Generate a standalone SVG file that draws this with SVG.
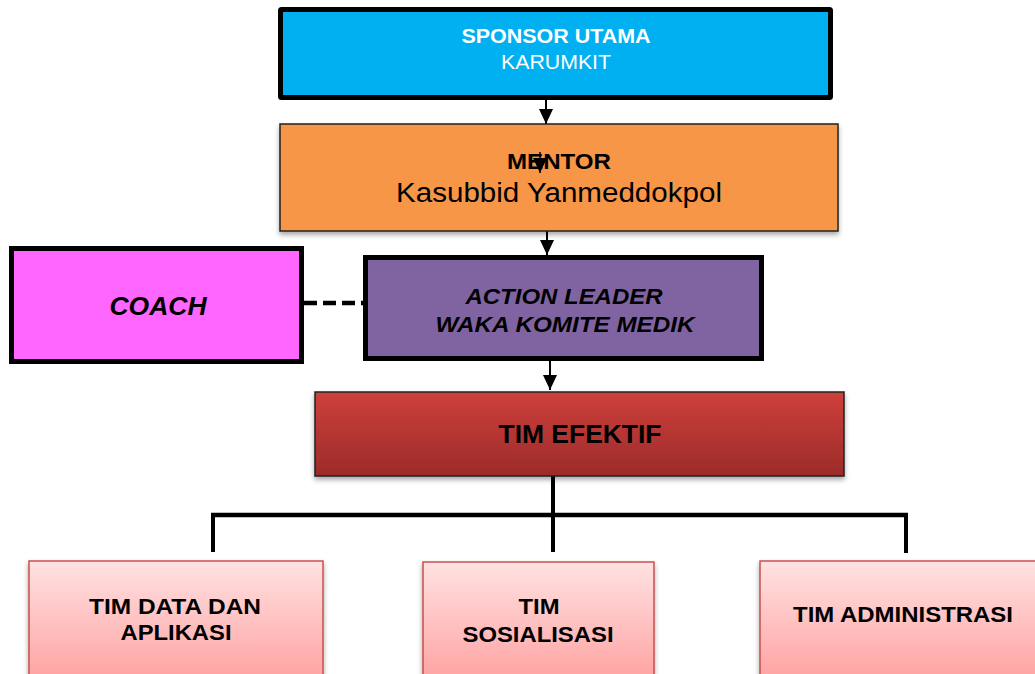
<svg xmlns="http://www.w3.org/2000/svg" width="1035" height="674" viewBox="0 0 1035 674">
<style>
.t{font-family:"Liberation Sans",Arial,sans-serif;text-anchor:middle}
.b{font-weight:bold}
.i{font-style:italic}
.conn{stroke:#000;fill:none}
</style>
<defs>
<marker id="ah" markerWidth="15" markerHeight="14" refX="15" refY="7" orient="auto" markerUnits="userSpaceOnUse" viewBox="0 0 15 14">
<path d="M0,0 L15,7 L0,14 Z" fill="#000"/>
</marker>
<linearGradient id="gRed" x1="0" y1="0" x2="0" y2="1">
<stop offset="0" stop-color="#CE403C"/>
<stop offset="1" stop-color="#9C2B29"/>
</linearGradient>
<linearGradient id="gPink" x1="0" y1="0" x2="0" y2="1">
<stop offset="0" stop-color="#FFE2E2"/>
<stop offset="1" stop-color="#FF9C9C"/>
</linearGradient>
<filter id="sh" x="-5%" y="-10%" width="110%" height="130%">
<feDropShadow dx="0" dy="3" stdDeviation="2.5" flood-color="#000" flood-opacity="0.35"/>
</filter>
</defs>

<g id="connectors">
<line class="conn" x1="546" y1="100" x2="546" y2="124" stroke-width="2" marker-end="url(#ah)"/>
<line class="conn" x1="547" y1="231" x2="547" y2="255" stroke-width="2" marker-end="url(#ah)"/>
<line class="conn" x1="550" y1="361" x2="550" y2="390" stroke-width="2" marker-end="url(#ah)"/>
<line class="conn" x1="304" y1="303" x2="364" y2="303" stroke-width="4.5" stroke-dasharray="13,6"/>
<line class="conn" x1="553" y1="476" x2="553" y2="552" stroke-width="4"/>
<line class="conn" x1="211" y1="515" x2="908" y2="515" stroke-width="4.5"/>
<line class="conn" x1="213" y1="515" x2="213" y2="552" stroke-width="4"/>
<line class="conn" x1="906" y1="515" x2="906" y2="553" stroke-width="4"/>
</g>

<g id="sponsor">
<rect x="280.5" y="9.5" width="550" height="88" fill="#00B0F0" stroke="#000" stroke-width="5" rx="1"/>
<text class="t b" x="556" y="43" font-size="20" fill="#fff" textLength="189" lengthAdjust="spacingAndGlyphs">SPONSOR UTAMA</text>
<text class="t" x="556" y="69" font-size="20" fill="#fff" textLength="110" lengthAdjust="spacingAndGlyphs">KARUMKIT</text>
</g>

<g id="mentor">
<rect x="280" y="124" width="558" height="107" fill="#F79646" stroke="#222" stroke-width="1.5" filter="url(#sh)"/>
<text class="t b" x="559" y="169" font-size="22" fill="#000" textLength="104" lengthAdjust="spacingAndGlyphs">MENTOR</text>
<text class="t" x="559" y="202" font-size="27" fill="#000" textLength="326" lengthAdjust="spacingAndGlyphs">Kasubbid Yanmeddokpol</text>
<line class="conn" x1="540" y1="152" x2="540" y2="173" stroke-width="1.5" marker-end="url(#ah)"/>
</g>

<g id="coach">
<rect x="11.5" y="248.5" width="290" height="113" fill="#FF66FF" stroke="#000" stroke-width="5"/>
<text class="t b i" x="158" y="315" font-size="25" fill="#000" textLength="97" lengthAdjust="spacingAndGlyphs">COACH</text>
</g>

<g id="action-leader">
<rect x="365.5" y="257.5" width="396" height="101" fill="#8064A2" stroke="#000" stroke-width="5"/>
<text class="t b i" x="564" y="304" font-size="22" fill="#000" textLength="197" lengthAdjust="spacingAndGlyphs">ACTION LEADER</text>
<text class="t b i" x="565" y="332" font-size="22" fill="#000" textLength="259" lengthAdjust="spacingAndGlyphs">WAKA KOMITE MEDIK</text>
</g>

<g id="tim-efektif">
<rect x="315" y="392" width="529" height="84" fill="url(#gRed)" stroke="#222" stroke-width="1.5" filter="url(#sh)"/>
<text class="t b" x="580" y="443" font-size="25" fill="#000" textLength="163" lengthAdjust="spacingAndGlyphs">TIM EFEKTIF</text>
</g>

<g id="tim-data">
<rect x="29" y="561" width="294" height="130" fill="url(#gPink)" stroke="#C9504C" stroke-width="1.5" filter="url(#sh)"/>
<text class="t b" x="175" y="614" font-size="22" fill="#000" textLength="172" lengthAdjust="spacingAndGlyphs">TIM DATA DAN</text>
<text class="t b" x="176" y="640" font-size="22" fill="#000" textLength="111" lengthAdjust="spacingAndGlyphs">APLIKASI</text>
</g>

<g id="tim-sosialisasi">
<rect x="423" y="562" width="231" height="130" fill="url(#gPink)" stroke="#C9504C" stroke-width="1.5" filter="url(#sh)"/>
<text class="t b" x="539" y="614" font-size="22" fill="#000" textLength="41" lengthAdjust="spacingAndGlyphs">TIM</text>
<text class="t b" x="538" y="642" font-size="22" fill="#000" textLength="151" lengthAdjust="spacingAndGlyphs">SOSIALISASI</text>
</g>

<g id="tim-administrasi">
<rect x="760" y="561" width="290" height="130" fill="url(#gPink)" stroke="#C9504C" stroke-width="1.5" filter="url(#sh)"/>
<text class="t b" x="903" y="622" font-size="22" fill="#000" textLength="220" lengthAdjust="spacingAndGlyphs">TIM ADMINISTRASI</text>
</g>
</svg>
